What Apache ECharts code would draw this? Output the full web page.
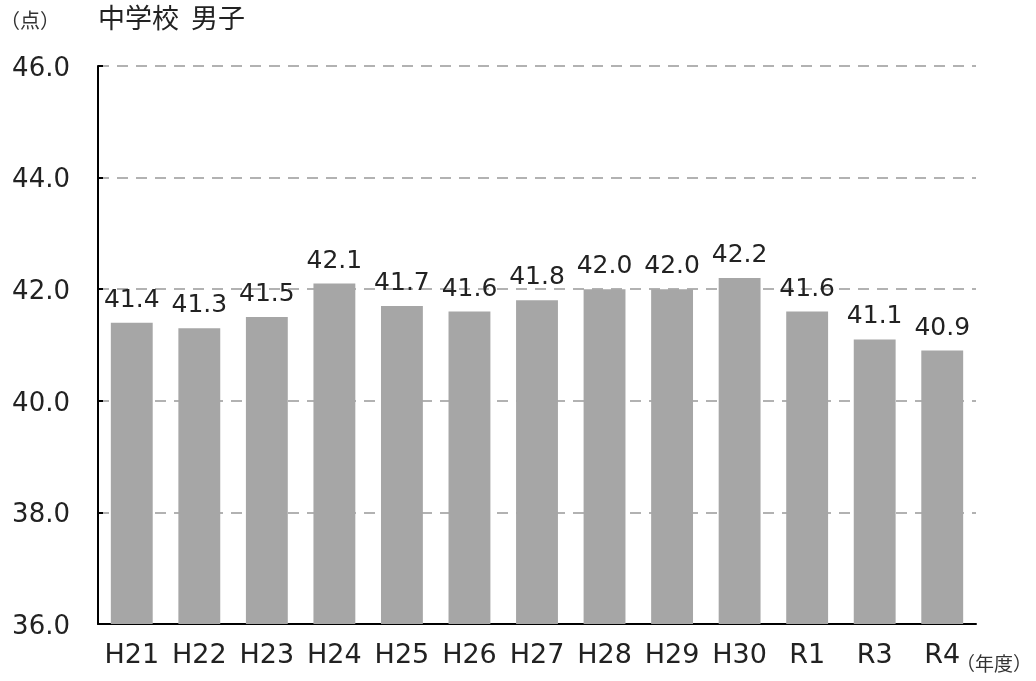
<!DOCTYPE html>
<html><head><meta charset="utf-8">
<script src="https://cdn.jsdelivr.net/npm/echarts@6/dist/echarts.min.js"></script>
<style>html,body{margin:0;padding:0;background:#fff}#c{width:1036px;height:681px}</style>
</head><body><div id="c"></div>
<script>
const categories = ['H21','H22','H23','H24','H25','H26','H27','H28','H29','H30','R1','R3','R4'];
const values = [41.4,41.3,41.5,42.1,41.7,41.6,41.8,42.0,42.0,42.2,41.6,41.1,40.9];
const yMin = 36, yMax = 46, yStep = 2;
const titleText = '中学校  男子';
const unitText = '（点）';
const xUnitText = '（年度）';
const FONT = '"DejaVu Sans", "Noto Sans CJK JP", sans-serif';
const JFONT = '"Noto Sans CJK JP", sans-serif';
const chart = echarts.init(document.getElementById('c'));
chart.setOption({
  animation: false,
  backgroundColor: '#fff',
  grid: {left: 98, right: 60, top: 66, bottom: 57},
  graphic: [
    {type:'text', left: 0, top: 10, style:{text: unitText, font: '20px '+JFONT, fill:'#333'}},
    {type:'text', left: 98, top: 4, style:{text: titleText, font: '27px '+JFONT, fill:'#222'}},
    {type:'text', left: 956, top: 654, style:{text: xUnitText, font: '19px '+JFONT, fill:'#333'}}
  ],
  xAxis: {
    type: 'category', data: categories,
    axisLine: {lineStyle: {color: '#000', width: 2}},
    axisTick: {inside: true, length: 7, lineStyle: {color:'#000', width: 2}},
    axisLabel: {fontFamily: FONT, fontSize: 27, color: '#222', margin: 18, interval: 0}
  },
  yAxis: {
    type: 'value', min: yMin, max: yMax, interval: yStep,
    axisLine: {show: true, lineStyle: {color: '#000', width: 2}},
    axisTick: {show: true, inside: true, length: 5, lineStyle:{color:'#000', width:2}},
    axisLabel: {fontFamily: FONT, fontSize: 26, color: '#222', margin: 28, verticalAlign: 'top', lineHeight: 26, padding: [-10,0,0,0], formatter: v => v.toFixed(1)},
    splitLine: {show: true, lineStyle: {color: '#999', type: [11, 8], width: 1.5}}
  },
  series: [{
    type: 'bar', data: values, barWidth: '62%',
    itemStyle: {color: '#a6a6a6'},
    label: {show: true, position: 'top', distance: 10, fontFamily: FONT, fontSize: 25, color: '#222', formatter: p => p.value.toFixed(1)}
  }]
});
</script></body></html>
